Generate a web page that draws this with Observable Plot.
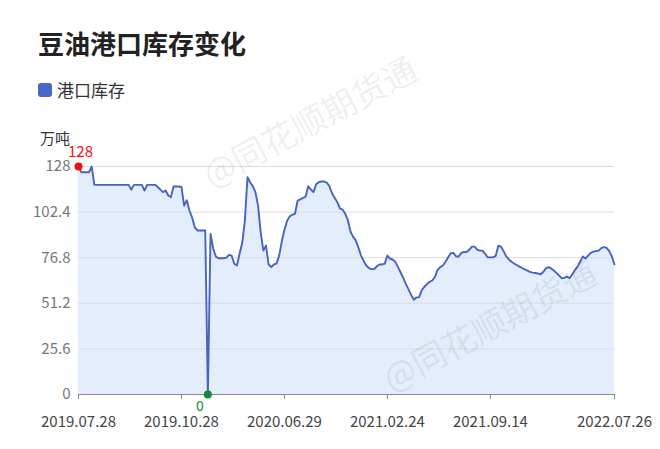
<!DOCTYPE html>
<html>
<head>
<meta charset="utf-8">
<script src="https://cdn.jsdelivr.net/npm/d3@7"></script>
<script src="https://cdn.jsdelivr.net/npm/@observablehq/plot@0.6"></script>
<style>
  html, body { margin: 0; padding: 0; background: #fff; }
  body { width: 660px; height: 449px; position: relative; overflow: hidden;
         font-family: "Noto Sans CJK SC", "Noto Sans", sans-serif; }
  #title { position: absolute; left: 38px; top: 28px; font-size: 26px; line-height: 30px;
           font-weight: bold; color: #222; white-space: nowrap; }
  #legend { position: absolute; left: 38px; top: 80px; font-size: 17px; line-height: 20px;
            color: #333; white-space: nowrap; display: flex; align-items: center; }
  #legend .sw { width: 14px; height: 14px; border-radius: 3px; background: #4a66c6; margin-right: 5px; }
  #unit { position: absolute; left: 40px; top: 128px; font-size: 15px; line-height: 20px; color: #333; }
  #chart { position: absolute; left: 0; top: 120px; }
  .wm { position: absolute; font-size: 34px; line-height: 34px; color: rgba(0,0,0,0.075);
        white-space: nowrap; transform-origin: 0 50%; transform: rotate(-28deg); pointer-events: none; }
</style>
</head>
<body>
<div id="title">豆油港口库存变化</div>
<div id="legend"><span class="sw"></span><span>港口库存</span></div>
<div id="unit">万吨</div>
<div id="chart"></div>
<div class="wm" style="left:205px; top:159px;">@同花顺期货通</div>
<div class="wm" style="left:385px; top:363px;">@同花顺期货通</div>
<script>
// x tick labels (dates) and their positions in the series
const tickLabels = ["2019.07.28", "2019.10.28", "2020.06.29", "2021.02.24", "2021.09.14", "2022.07.26"];
const tickIndex = [0, 39, 78, 117, 156, 203];
// y ticks
const yTicks = [0, 25.6, 51.2, 76.8, 102.4, 128];
// 港口库存 (万吨), one value per observation
const stock = [
  128, 124.8, 124.8, 124.8, 124.8, 128, 117.7, 117.7, 117.7, 117.7,
  117.7, 117.7, 117.7, 117.7, 117.7, 117.7, 117.7, 117.7, 117.7, 117.7,
  115, 117.7, 117.7, 117.7, 117.7, 114.5, 117.7, 117.7, 117.7, 117.7,
  116.5, 115, 113.6, 114.5, 111.7, 110.8, 116.8, 116.8, 116.8, 116.5,
  106, 109, 103.3, 99.5, 94, 92.1, 92.1, 92.1, 92.1, 0,
  90.2, 82, 77.5, 76.5, 76.5, 76.5, 76.8, 78.4, 78, 73.4,
  72.4, 79, 85, 97.5, 122, 119, 117, 113.6, 106, 91,
  80.8, 83.6, 73, 71.5, 73, 73.5, 78, 86, 92.5, 97.5,
  100, 100.9, 101.5, 108.9, 109.5, 110.4, 111, 116.9, 115.1, 113.6,
  118, 119.2, 119.6, 119.6, 119, 117, 113, 110.5, 108, 104.5,
  103.8, 101.5, 98, 91.5, 88.5, 86.5, 82.5, 78, 75, 72.4,
  71, 70.4, 70.4, 72, 73, 73, 73.5, 78, 76.2, 75.8,
  74.5, 71.5, 68.5, 65.5, 62, 59, 55.8, 53.2, 54.4, 54.7,
  58.5, 60.5, 62, 63.3, 64, 66, 70, 71.5, 72.4, 74.5,
  77, 79.3, 79.5, 77.5, 77.5, 79.5, 80, 80, 81.2, 83,
  83, 81.3, 80.8, 80.8, 79, 77, 77, 77, 77.8, 83.5,
  83, 80.5, 77.5, 75.8, 74.5, 73.5, 72.7, 71.8, 71, 70.2,
  69.5, 68.8, 68.4, 68.2, 67.9, 67.5, 68.8, 70.8, 71.6, 70.8,
  69.6, 68.3, 66.8, 65.3, 65.5, 66.2, 65.3, 67.5, 69.8, 71.8,
  74.5, 77.5, 76.3, 78, 79.5, 80.2, 80.5, 80.8, 82.2, 82.7,
  82.3, 80.5, 77.5, 73
];

const data = stock.map((v, i) => ({i, v}));
let maxI = 0, minI = 0;
stock.forEach((v, i) => { if (v > stock[maxI]) maxI = i; if (v < stock[minI]) minI = i; });
const maxPt = [data[maxI]], minPt = [data[minI]];
const font = '"Noto Sans CJK SC", "Noto Sans", sans-serif';

const chart = Plot.plot({
  width: 660,
  height: 329,
  marginTop: 46,
  marginBottom: 55,
  marginLeft: 78,
  marginRight: 46,
  style: {fontFamily: font, background: "transparent", overflow: "visible"},
  x: {domain: [0, stock.length - 1]},
  y: {domain: [0, 128]},
  marks: [
    Plot.areaY(data, {x: "i", y: "v", fill: "#e4edfc"}),
    Plot.gridY(yTicks.slice(1), {stroke: "#dcdcdc", strokeOpacity: 1}),
    Plot.lineY(data, {x: "i", y: "v", stroke: "#4763c3", strokeWidth: 1.9}),
    Plot.ruleY([0], {stroke: "#8a8a8a"}),
    Plot.axisY({ticks: yTicks, tickSize: 0, tickPadding: 8, tickFormat: d => String(d),
      fontSize: 15, fill: "#777", label: null}),
    Plot.axisX({ticks: tickIndex, tickFormat: d => tickLabels[tickIndex.indexOf(d)],
      tickSize: 5, tickPadding: 17, fontSize: 15, fill: "#444", stroke: "#8a8a8a", label: null}),
    Plot.dot(maxPt, {x: "i", y: "v", r: 4, fill: "#ee1111", stroke: "none"}),
    Plot.text(maxPt, {x: "i", y: "v", text: d => String(d.v), dx: 2, dy: -14, fontSize: 15, fill: "#ee1111"}),
    Plot.dot(minPt, {x: "i", y: "v", r: 4, fill: "#148a36", stroke: "none"}),
    Plot.text(minPt, {x: "i", y: "v", text: d => String(d.v), dx: -8, dy: 12, fontSize: 14, fill: "#148a36"})
  ]
});
document.getElementById("chart").appendChild(chart);
</script>
</body>
</html>
